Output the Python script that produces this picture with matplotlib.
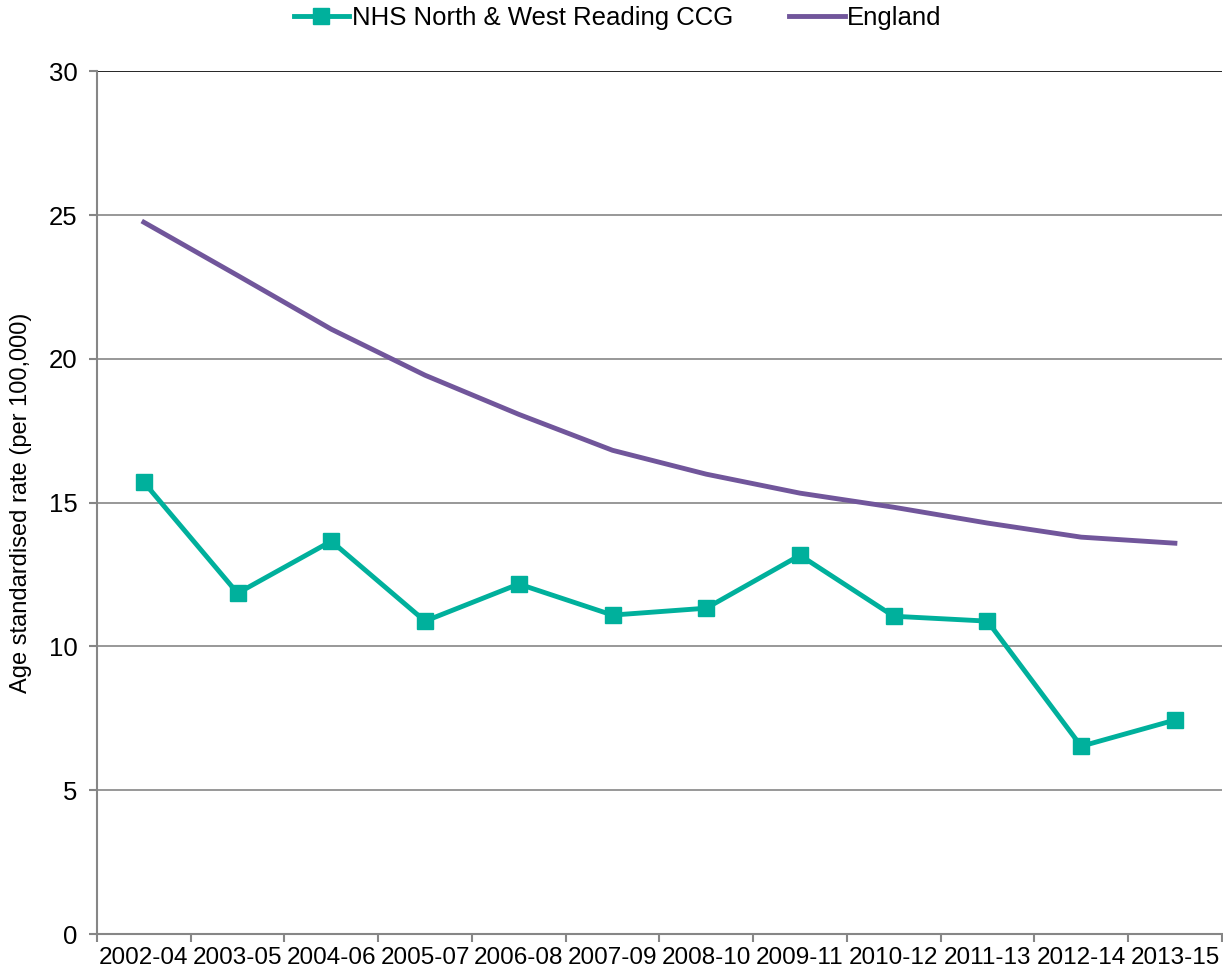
import matplotlib
matplotlib.use("Agg")
from matplotlib import pyplot as plt
import numpy as np

plt.rcParams['font.family'] = ['Liberation Sans', 'DejaVu Sans']

periods = ['2002-04', '2003-05', '2004-06', '2005-07', '2006-08', '2007-09',
           '2008-10', '2009-11', '2010-12', '2011-13', '2012-14', '2013-15']
ccg = [15.71, 11.85, 13.66, 10.88, 12.17, 11.09, 11.33, 13.17, 11.05, 10.88, 6.53, 7.44]
england = [24.75, 22.90, 21.03, 19.43, 18.07, 16.82, 15.99, 15.33, 14.84, 14.29, 13.80, 13.59]

fig = plt.figure(figsize=(12.23, 9.76), dpi=100)
ax = fig.add_axes([0.0793, 0.043, 0.9197, 0.884])

x = np.arange(len(periods))
ax.plot(x, ccg, color='#00b09c', lw=3.5, marker='s', ms=11,
        label='NHS North & West Reading CCG')
ax.plot(x, england, color='#71569b', lw=3.5, label='England')

ax.set_xlim(-0.5, len(periods) - 0.5)
ax.set_ylim(0, 30)
ax.set_yticks(range(0, 31, 5))
ax.set_xticks(x)
ax.set_xticklabels(periods)
ax.set_xticks(np.arange(-0.5, len(periods), 1), minor=True)
ax.tick_params(axis='x', which='major', length=0, pad=9, labelsize=17.5)
ax.tick_params(axis='x', which='minor', length=6, color='#868686', width=1.5)
ax.tick_params(axis='y', length=6, color='#868686', width=1.5, labelsize=18.5, pad=8)

for v in range(5, 30, 5):
    ax.axhline(v, color='#868686', lw=1.2, zorder=0)
ax.axhline(30, color='black', lw=1.2, zorder=0)

for s in ['top', 'right']:
    ax.spines[s].set_visible(False)
for s in ['left', 'bottom']:
    ax.spines[s].set_color('#868686')
    ax.spines[s].set_linewidth(1.5)

ax.set_ylabel('Age standardised rate (per 100,000)', fontsize=17, labelpad=12)

ax.legend(loc='upper center', bbox_to_anchor=(0.463, 1.102), ncol=2, frameon=False,
          fontsize=18.5, handlelength=2.15, handletextpad=0.1, columnspacing=2.2)

fig.savefig('out.png', dpi=100)
